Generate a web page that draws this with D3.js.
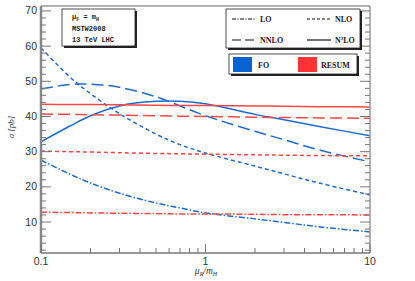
<!DOCTYPE html>
<html>
<head>
<meta charset="utf-8">
<script src="https://cdn.jsdelivr.net/npm/d3@7"></script>
<style>
  body { margin: 0; background: #fff; }
  svg { display: block; }
</style>
</head>
<body>
<svg id="chart" width="415" height="281"></svg>
<script>
// scale values mu_R / m_H where the curves were read
const muValues = [0.1, 0.15, 0.2, 0.3, 0.5, 0.7, 1, 2, 3, 5, 10];

// fixed order (FO) cross sections [pb]
const foLO   = [27.6, 23.6, 21.1, 18.2, 15.4, 14.0, 12.6, 10.9, 9.9, 8.6, 7.2];
const foNLO  = [59.5, 51.2, 46.5, 40.8, 35.0, 32.0, 29.6, 25.9, 23.7, 21.0, 17.7];
const foNNLO = [47.8, 49.1, 49.2, 48.3, 45.6, 43.0, 40.2, 35.8, 33.4, 30.4, 27.1];
const foN3LO = [32.8, 37.3, 40.2, 43.0, 44.3, 44.3, 43.6, 40.6, 39.1, 37.1, 34.5];

// resummed cross sections [pb]
const rsLO   = [12.8, 12.7, 12.6, 12.5, 12.4, 12.3, 12.3, 12.2, 12.1, 12.1, 12.0];
const rsNLO  = [30.2, 30.0, 29.9, 29.7, 29.5, 29.4, 29.3, 29.1, 29.0, 28.9, 28.8];
const rsNNLO = [40.7, 40.6, 40.5, 40.4, 40.2, 40.1, 40.0, 39.8, 39.7, 39.6, 39.5];
const rsN3LO = [43.5, 43.4, 43.4, 43.3, 43.2, 43.1, 43.1, 43.0, 42.9, 42.8, 42.7];

const xTickValues = [0.1, 1, 10];
const yTickValues = [10, 20, 30, 40, 50, 60, 70];

const blue = "#1c6ccf";
const red = "#ff4646";

// dash style per order
const orderDash = { LO: "6,2,1.5,2", NLO: "4,3", NNLO: "12,5", N3LO: null };

const series = [
  { order: "LO", color: blue, values: foLO },
  { order: "NLO", color: blue, values: foNLO },
  { order: "NNLO", color: blue, values: foNNLO },
  { order: "N3LO", color: blue, values: foN3LO },
  { order: "LO", color: red, values: rsLO },
  { order: "NLO", color: red, values: rsNLO },
  { order: "NNLO", color: red, values: rsNNLO },
  { order: "N3LO", color: red, values: rsN3LO }
];

const pLeft = 41, pRight = 370, pTop = 6, pBottom = 253;
const svg = d3.select("#chart");

const x = d3.scaleLog().domain([0.1, 10]).range([pLeft, pRight]);
const y = d3.scaleLinear().domain([1.2, 71.4]).range([pBottom, pTop]);

// curves first, clipped to the frame
svg.append("clipPath").attr("id", "clip")
  .append("rect").attr("x", pLeft).attr("y", pTop)
  .attr("width", pRight - pLeft).attr("height", pBottom - pTop);

const line = d3.line()
  .x((d, i) => x(muValues[i]))
  .y(d => y(d))
  .curve(d3.curveCatmullRom.alpha(0.5));

svg.append("g").attr("clip-path", "url(#clip)")
  .selectAll("path")
  .data(series)
  .enter().append("path")
  .attr("d", d => line(d.values))
  .attr("fill", "none")
  .attr("stroke", d => d.color)
  .attr("stroke-width", 1.5)
  .attr("stroke-dasharray", d => orderDash[d.order]);

// frame
svg.append("line").attr("x1", pLeft).attr("x2", pRight).attr("y1", pTop).attr("y2", pTop)
  .attr("stroke", "#999").attr("stroke-width", 1.5);
svg.append("line").attr("x1", pRight).attr("x2", pRight).attr("y1", pTop).attr("y2", pBottom)
  .attr("stroke", "#999").attr("stroke-width", 1.5);
svg.append("line").attr("x1", pLeft).attr("x2", pRight).attr("y1", pBottom).attr("y2", pBottom)
  .attr("stroke", "#333").attr("stroke-width", 1);
svg.append("line").attr("x1", pLeft).attr("x2", pLeft).attr("y1", pTop).attr("y2", pBottom)
  .attr("stroke", "#888").attr("stroke-width", 2.5);

// y ticks (left and right), minor every 2
const yMinor = d3.range(2, 71, 2).filter(v => v % 10 !== 0);
const tickG = svg.append("g").attr("stroke", "#777").attr("stroke-width", 1);
yTickValues.forEach(v => {
  tickG.append("line").attr("x1", pLeft).attr("x2", pLeft + 10).attr("y1", y(v)).attr("y2", y(v));
  tickG.append("line").attr("x1", pRight).attr("x2", pRight - 10).attr("y1", y(v)).attr("y2", y(v));
});
yMinor.forEach(v => {
  tickG.append("line").attr("x1", pLeft).attr("x2", pLeft + 5).attr("y1", y(v)).attr("y2", y(v));
  tickG.append("line").attr("x1", pRight).attr("x2", pRight - 5).attr("y1", y(v)).attr("y2", y(v));
});

// x ticks
const xMinor = [];
[0.1, 1].forEach(b => { for (let k = 2; k <= 9; k++) xMinor.push(b * k); });
xTickValues.forEach(v => {
  tickG.append("line").attr("x1", x(v)).attr("x2", x(v)).attr("y1", pBottom).attr("y2", pBottom - 9);
});
xMinor.forEach(v => {
  tickG.append("line").attr("x1", x(v)).attr("x2", x(v)).attr("y1", pBottom).attr("y2", pBottom - 5);
});

// tick labels
svg.append("g").selectAll("text")
  .data(yTickValues).enter().append("text")
  .attr("x", pLeft - 4).attr("y", d => y(d) + 3.5)
  .attr("text-anchor", "end")
  .attr("font-family", "Liberation Sans, Arial, sans-serif")
  .attr("font-size", 10.5).attr("fill", "#333")
  .text(d => d);

svg.append("g").selectAll("text")
  .data(xTickValues).enter().append("text")
  .attr("x", d => x(d)).attr("y", pBottom + 12)
  .attr("text-anchor", "middle")
  .attr("font-family", "Liberation Sans, Arial, sans-serif")
  .attr("font-size", 10.5).attr("fill", "#333")
  .text(d => d);

// axis titles
const yTitle = svg.append("text")
  .attr("transform", "translate(14,127) rotate(-90)")
  .attr("text-anchor", "middle")
  .attr("font-family", "Liberation Serif, serif")
  .attr("font-style", "italic")
  .attr("font-size", 9).attr("fill", "#333");
yTitle.append("tspan").text("σ  [pb]");

const xTitle = svg.append("text")
  .attr("x", 206).attr("y", 274)
  .attr("text-anchor", "middle")
  .attr("font-family", "Liberation Serif, serif")
  .attr("font-style", "italic")
  .attr("font-size", 9.5).attr("fill", "#333");
xTitle.append("tspan").text("μ");
xTitle.append("tspan").attr("font-size", 6).attr("dy", 2).text("R");
xTitle.append("tspan").attr("dy", -2).text("/m");
xTitle.append("tspan").attr("font-size", 6).attr("dy", 2).text("H");

// legend boxes with drop shadow
function box(x0, y0, w, h) {
  svg.append("rect").attr("x", x0 + 2).attr("y", y0 + 2).attr("width", w).attr("height", h)
    .attr("fill", "#222");
  svg.append("rect").attr("x", x0).attr("y", y0).attr("width", w).attr("height", h)
    .attr("fill", "#fff").attr("stroke", "#222").attr("stroke-width", 0.8);
}

// info box
box(62, 9, 73, 37);
const mono = "Liberation Mono, Courier New, monospace";
const info = svg.append("text").attr("x", 72).attr("y", 19)
  .attr("font-family", mono).attr("font-weight", "bold").attr("font-size", 7).attr("fill", "#222");
info.append("tspan").text("μ");
info.append("tspan").attr("font-size", 5).attr("dy", 1.5).text("F");
info.append("tspan").attr("dy", -1.5).text(" = m");
info.append("tspan").attr("font-size", 5).attr("dy", 1.5).text("H");
svg.append("text").attr("x", 72).attr("y", 30.5)
  .attr("font-family", mono).attr("font-weight", "bold").attr("font-size", 7).attr("fill", "#222")
  .text("MSTW2008");
svg.append("text").attr("x", 72).attr("y", 42)
  .attr("font-family", mono).attr("font-weight", "bold").attr("font-size", 7).attr("fill", "#222")
  .text("13 TeV LHC");

// line style legend
box(226, 9, 134, 39);
const serif = "Liberation Serif, Times New Roman, serif";
const styleItems = [
  { order: "LO", label: "LO", lx: 232, ly: 19 },
  { order: "NLO", label: "NLO", lx: 307, ly: 19 },
  { order: "NNLO", label: "NNLO", lx: 232, ly: 40 },
  { order: "N3LO", label: "N3LO", lx: 307, ly: 40 }
];
styleItems.forEach(it => {
  svg.append("line").attr("x1", it.lx).attr("x2", it.lx + 24).attr("y1", it.ly).attr("y2", it.ly)
    .attr("stroke", "#111").attr("stroke-width", 1.2)
    .attr("stroke-dasharray", it.order === "LO" ? "4,1.5,1,1.5" : it.order === "NLO" ? "3,2" : it.order === "NNLO" ? "9,4" : null);
  const t = svg.append("text").attr("x", it.lx + 28).attr("y", it.ly + 3)
    .attr("font-family", serif).attr("font-weight", "bold").attr("font-size", 8).attr("fill", "#222");
  if (it.order === "N3LO") {
    t.append("tspan").text("N");
    t.append("tspan").attr("font-size", 5).attr("dy", -3).text("3");
    t.append("tspan").attr("dy", 3).text("LO");
  } else {
    t.text(it.label);
  }
});

// colour legend
box(229, 54, 128, 20);
svg.append("rect").attr("x", 233).attr("y", 57).attr("width", 19).attr("height", 15).attr("fill", "#0a62d0");
svg.append("text").attr("x", 258).attr("y", 67.5)
  .attr("font-family", serif).attr("font-weight", "bold").attr("font-size", 8).attr("fill", "#222").text("FO");
svg.append("rect").attr("x", 298).attr("y", 57).attr("width", 19).attr("height", 15).attr("fill", "#ff3333");
svg.append("text").attr("x", 321).attr("y", 67.5)
  .attr("font-family", serif).attr("font-weight", "bold").attr("font-size", 8).attr("fill", "#222").text("RESUM");
</script>
</body>
</html>
